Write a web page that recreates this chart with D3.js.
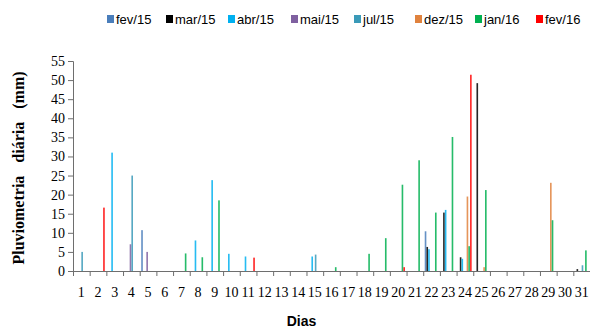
<!DOCTYPE html>
<html>
<head>
<meta charset="utf-8">
<script src="https://cdn.jsdelivr.net/npm/d3@7"></script>
<style>
  body { margin: 0; background: #fff; }
  svg { display: block; }
</style>
</head>
<body>
<div id="chart"></div>
<script>
// dados: pluviometria diária (mm) por mês
const dias = ["1","2","3","4","5","6","7","8","9","10","11","12","13","14","15","16","17","18","19","20","21","22","23","24","25","26","27","28","29","30","31"];
const meses = ["fev/15", "mar/15", "abr/15", "mai/15", "jul/15", "dez/15", "jan/16", "fev/16"];
const cores = ["#4a7ebb", "#000000", "#00b0f0", "#7f60a0", "#3a9ab8", "#e0823d", "#00b050", "#ff0000"];
const yTicks = [0, 5, 10, 15, 20, 25, 30, 35, 40, 45, 50, 55];

// valores lidos por dia (dia: mm)
const fev15 = {5: 10.7, 22: 10.4};
const mar15 = {22: 6.3, 23: 15.3, 24: 3.6, 25: 49.2, 31: 0.5};
const abr15 = {3: 31, 8: 8, 9: 23.8, 10: 4.5, 11: 3.8, 15: 3.8, 22: 5.7, 23: 16, 24: 3.2};
const mai15 = {4: 7, 5: 5};
const jul15 = {1: 5, 4: 25, 15: 4.3, 31: 1.5};
const dez15 = {24: 19.5, 25: 1.0, 29: 23.1};
const jan16 = {7: 4.6, 8: 3.6, 9: 18.5, 16: 1.0, 18: 4.5, 19: 8.6, 20: 22.6, 21: 29, 22: 15.3, 23: 35.1, 24: 6.5, 25: 21.2, 29: 13.3, 31: 5.4};
const fev16 = {2: 16.6, 11: 3.5, 20: 1.0, 24: 51.4};
const series = [fev15, mar15, abr15, mai15, jul15, dez15, jan16, fev16];

// ----------------------------------------------------------

const width = 590;
const height = 329;
const margin = {top: 61, right: 0, bottom: 58, left: 73};

const svg = d3.select("#chart").append("svg")
    .attr("width", width)
    .attr("height", height);

const plotW = width - margin.left - margin.right;
const plotH = height - margin.top - margin.bottom;

let x0 = d3.scaleBand().domain(dias).range([0, plotW])
    .paddingInner(0.18).paddingOuter(0.09);
let x1 = d3.scaleBand().domain(meses).range([0, x0.bandwidth()]);
let xb = d3.scaleLinear().domain([0, dias.length]).range([0, plotW]);
let y = d3.scaleLinear().domain([0, 55]).range([plotH, 0]);

const g = svg.append("g").attr("transform", `translate(${margin.left}, ${margin.top})`);

// eixo y
const yAxisGroup = g.append("g").attr("id", "yAxisGroup")
    .call(d3.axisLeft(y).tickValues(yTicks).tickSize(5).tickPadding(3));
yAxisGroup.selectAll("text")
    .style("font-family", "'Liberation Serif', 'Times New Roman', serif")
    .style("font-size", "14px")
    .attr("fill", "#000");

// barras
const rows = [];
series.forEach((s, i) => {
    Object.keys(s).forEach(k => rows.push({dia: k, mes: meses[i], v: s[k], c: cores[i]}));
});
g.selectAll("rect.bar").data(rows).enter().append("rect")
    .attr("class", "bar")
    .attr("x", d => x0(d.dia) + x1(d.mes))
    .attr("width", x1.bandwidth() * 0.95)
    .attr("y", d => y(d.v))
    .attr("height", d => plotH - y(d.v))
    .attr("fill", d => d.c)
    .attr("opacity", 0.85);

// eixo x: marcas nos limites das categorias
const xTickGroup = g.append("g").attr("transform", `translate(0, ${plotH})`)
    .call(d3.axisBottom(xb).tickValues(d3.range(0, dias.length + 1)).tickSize(5).tickFormat(""));
// rótulos dos dias
const xLabelGroup = g.append("g").attr("transform", `translate(0, ${plotH})`)
    .call(d3.axisBottom(x0).tickSize(0).tickPadding(16));
xLabelGroup.select(".domain").remove();
xLabelGroup.selectAll("text")
    .style("font-family", "'Liberation Serif', 'Times New Roman', serif")
    .style("font-size", "14px")
    .attr("fill", "#000");

svg.selectAll(".domain, .tick line").attr("stroke", "#6e6e6e");

// títulos dos eixos
svg.append("text")
    .attr("x", margin.left + plotW / 2 - 30)
    .attr("y", 326)
    .attr("text-anchor", "middle")
    .style("font-family", "'Liberation Sans Narrow', 'Liberation Sans', Arial, sans-serif")
    .style("font-weight", "bold")
    .style("font-size", "14px")
    .text("Dias");

svg.append("text")
    .attr("transform", `translate(24, ${margin.top + plotH / 2 + 2}) rotate(-90)`)
    .attr("text-anchor", "middle")
    .style("font-family", "'Liberation Serif', 'Times New Roman', serif")
    .style("font-weight", "bold")
    .style("font-size", "16px")
    .style("word-spacing", "9px")
    .text("Pluviometria diária (mm)");

// legenda
const legX = [107, 166, 228, 291, 354, 415, 475, 536];
const leg = svg.append("g").selectAll("g").data(meses).enter().append("g")
    .attr("transform", (d, i) => `translate(${legX[i]}, 14)`);
leg.append("rect")
    .attr("width", 7).attr("height", 8).attr("y", 1)
    .attr("fill", (d, i) => cores[i]);
leg.append("text")
    .attr("x", 9).attr("y", 9.5)
    .style("font-family", "'Liberation Sans Narrow', 'Liberation Sans', Arial, sans-serif")
    .style("font-size", "13px")
    .text(d => d);
</script>
</body>
</html>
